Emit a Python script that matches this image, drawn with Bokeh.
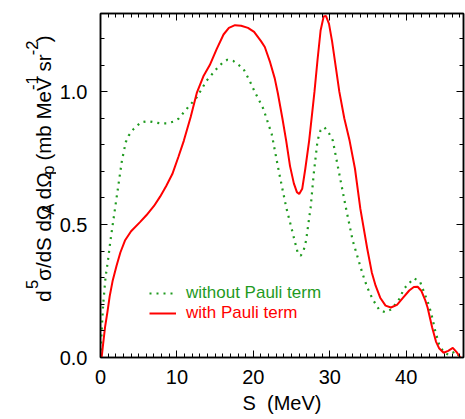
from bokeh.plotting import figure
from bokeh.layouts import row
from bokeh.models import (Label, Legend, LegendItem, LinearAxis, SingleIntervalTicker,
                          PrintfTickFormatter, Range1d)
from bokeh.embed import file_html
from bokeh.resources import INLINE

# ---- data ----
s_with = [0.15, 0.3, 0.6, 0.9, 1.2, 1.6, 2.1, 2.6, 3.2, 4.0, 5.2, 6.0, 7.0, 7.8, 8.6, 9.4,
          10.2, 10.9, 11.8, 12.6, 13.5, 14.3, 15.2, 16.1, 16.8, 17.6, 18.4, 19.3, 20.1, 21.0,
          21.5, 22.2, 22.8, 23.2, 23.8, 24.3, 24.8, 25.3, 25.7, 26.0, 26.4, 26.8, 27.3, 27.7,
          28.0, 28.4, 28.8, 29.2, 29.5, 29.9, 30.3, 30.8, 31.25, 31.9, 32.6, 33.3, 34.0, 34.9,
          35.5, 36.0, 36.6, 37.3, 38.0, 38.8, 39.6, 40.4, 41.0, 41.5, 42.0, 42.5, 42.8, 43.4,
          43.9, 44.3, 44.9, 45.5, 46.1, 46.6, 47.1]
y_with = [0.0, 0.04, 0.115, 0.17, 0.23, 0.29, 0.345, 0.395, 0.44, 0.475, 0.51, 0.535, 0.57,
          0.605, 0.645, 0.69, 0.755, 0.815, 0.905, 0.995, 1.06, 1.10, 1.16, 1.215, 1.24, 1.25,
          1.248, 1.24, 1.225, 1.19, 1.168, 1.11, 1.05, 0.995, 0.90, 0.815, 0.72, 0.655, 0.622,
          0.615, 0.635, 0.71, 0.815, 0.92, 1.0, 1.12, 1.23, 1.283, 1.285, 1.255, 1.19, 1.09,
          1.0, 0.90, 0.815, 0.71, 0.56, 0.41, 0.32, 0.27, 0.225, 0.195, 0.188, 0.198, 0.225,
          0.252, 0.265, 0.266, 0.25, 0.215, 0.188, 0.113, 0.06, 0.035, 0.018, 0.025, 0.036,
          0.02, 0.0]

s_without = [0.0, 0.15, 0.35, 0.65, 1.0, 1.3, 1.95, 2.8, 3.3, 3.7, 4.35, 5.3, 6.2, 7.0, 7.8,
             8.7, 9.5, 10.2, 11.3, 12.6, 13.9, 15.2, 16.0, 16.6, 17.4, 18.1, 18.7, 19.5, 20.2,
             20.8, 21.3, 22.4, 23.4, 24.3, 25.4, 25.8, 26.2, 26.6, 26.9, 27.5, 27.9, 28.4,
             28.8, 29.3, 29.95, 30.4, 31.25, 32.1, 33.0, 34.3, 34.9, 35.6, 36.5, 37.3, 38.1,
             39.1, 39.7, 40.4, 41.0, 41.8, 42.4, 43.0, 43.4, 43.8, 44.3, 44.9, 45.6, 46.4, 47.1]
y_without = [0.0, 0.10, 0.20, 0.30, 0.37, 0.44, 0.57, 0.74, 0.81, 0.835, 0.86, 0.885, 0.889,
             0.885, 0.881, 0.881, 0.887, 0.898, 0.936, 0.979, 1.042, 1.086, 1.11, 1.12, 1.115,
             1.10, 1.086, 1.042, 0.998, 0.965, 0.936, 0.841, 0.691, 0.565, 0.44, 0.395, 0.383,
             0.405, 0.44, 0.565, 0.69, 0.816, 0.855, 0.866, 0.841, 0.816, 0.69, 0.565, 0.44,
             0.314, 0.264, 0.22, 0.178, 0.17, 0.182, 0.22, 0.258, 0.28, 0.298, 0.286, 0.241,
             0.195, 0.151, 0.10, 0.05, 0.019, 0.01, 0.023, 0.0]

label_without = "without Pauli term"
label_with = "with Pauli term"
x_title = "S  (MeV)"
# y title pieces: (text, role)
y_title = [("d", "m"), ("5", "sup"), ("σ/dS dΩ", "m"), ("A", "sub"), (" dΩ", "m"),
           ("p", "sub"), (" (mb MeV", "m"), ("-1", "sup"), (" sr", "m"), ("-2", "sup"),
           (")", "m")]

GREEN = "#1f9a1f"
RED = "#ff0000"
FONT = "Liberation Sans"
NBSP = "\u00a0"

W_TOTAL, H_TOTAL = 465, 419
LEFT_W = 56

# ---------------- main plot ----------------
p = figure(width=W_TOTAL - LEFT_W, height=H_TOTAL,
           x_range=Range1d(0, 47.5), y_range=Range1d(0, 1.294),
           output_backend="svg", toolbar_location=None,
           min_border_left=98 - LEFT_W, min_border_right=2, min_border_top=13,
           min_border_bottom=62)
p.grid.visible = False
p.outline_line_color = "black"
p.outline_line_width = 1.5
p.background_fill_color = "white"
p.border_fill_color = "white"

xt = SingleIntervalTicker(interval=10, num_minor_ticks=10)
yt = SingleIntervalTicker(interval=0.5, num_minor_ticks=5)

def style_axis(ax, show_labels):
    ax.axis_line_color = "black"
    ax.axis_line_width = 1.5
    ax.major_tick_in = 7
    ax.major_tick_out = 0
    ax.minor_tick_in = 4
    ax.minor_tick_out = 0
    ax.major_tick_line_color = "black"
    ax.minor_tick_line_color = "black"
    if show_labels:
        ax.major_label_text_font = FONT
        ax.major_label_text_font_size = "20px"
        ax.major_label_text_color = "black"
    else:
        ax.major_label_text_font_size = "0px"
        ax.major_label_text_alpha = 0
        ax.major_label_standoff = 0

p.xaxis.ticker = xt
p.yaxis.ticker = yt
p.yaxis.formatter = PrintfTickFormatter(format="%.1f")
style_axis(p.xaxis[0], True)
style_axis(p.yaxis[0], True)
p.xaxis.major_label_standoff = 12
p.yaxis.major_label_standoff = 13
p.xaxis.axis_label = x_title.replace(" ", NBSP)
p.xaxis.axis_label_text_font = FONT
p.xaxis.axis_label_text_font_size = "20px"
p.xaxis.axis_label_text_font_style = "normal"
p.xaxis.axis_label_text_color = "black"
p.xaxis.axis_label_standoff = 5

top = LinearAxis(ticker=xt)
right = LinearAxis(ticker=yt)
style_axis(top, False)
style_axis(right, False)
p.add_layout(top, "above")
p.add_layout(right, "right")

g = p.line(s_without, y_without, line_color=GREEN, line_width=2.2, line_dash="2 5")
r = p.line(s_with, y_with, line_color=RED, line_width=2)

def make_legend(item_label, renderer, color, vy):
    leg = Legend(items=[LegendItem(label=item_label, renderers=[renderer])],
                 location=(49, vy), padding=0, spacing=0, margin=0,
                 glyph_width=27, glyph_height=20, label_height=20, label_standoff=10,
                 label_text_font=FONT, label_text_font_size="17px",
                 label_text_color=color, label_text_baseline="middle",
                 border_line_alpha=0, background_fill_alpha=0)
    p.add_layout(leg, "center")

make_legend(label_without, g, GREEN, 54)
make_legend(label_with, r, RED, 34)

# ---------------- y title panel (pixel coordinates) ----------------
q = figure(width=LEFT_W, height=H_TOTAL, x_range=Range1d(0, LEFT_W),
           y_range=Range1d(H_TOTAL, 0), output_backend="svg", toolbar_location=None,
           x_axis_type=None, y_axis_type=None,
           min_border_left=0, min_border_right=0, min_border_top=0, min_border_bottom=0)
q.grid.visible = False
q.outline_line_color = None
q.background_fill_color = "white"
q.border_fill_color = "white"

W = {'d': .556, '5': .556, 'σ': .62, '/': .278, 'S': .667, ' ': .278, 'Ω': .768,
     'A': .667, 'p': .556, '(': .333, 'm': .833, 'b': .556, 'M': .833, 'e': .556,
     'V': .667, '-': .333, '1': .556, 's': .5, 'r': .333, '2': .556, ')': .333}
MAIN, SMALL = 20.5, 16.5
GAP_BEFORE, GAP_AFTER = 4.0, 1.0
base_x = {"m": 42.5, "sup": 31.5, "sub": 47.0}
pos = 351.0
for txt, kind in y_title:
    size = MAIN if kind == "m" else SMALL
    if kind != "m":
        pos -= GAP_BEFORE
    q.add_layout(Label(x=base_x[kind], y=pos, text=txt.replace(" ", NBSP), angle=90,
                       angle_units="deg", text_font=FONT, text_font_size=f"{size}px",
                       text_align="left", text_baseline="alphabetic", text_color="black"))
    pos -= sum(W[c] for c in txt) * size
    if kind != "m":
        pos -= GAP_AFTER

layout = row(q, p)
open("out.html", "w").write(file_html(layout, INLINE))
